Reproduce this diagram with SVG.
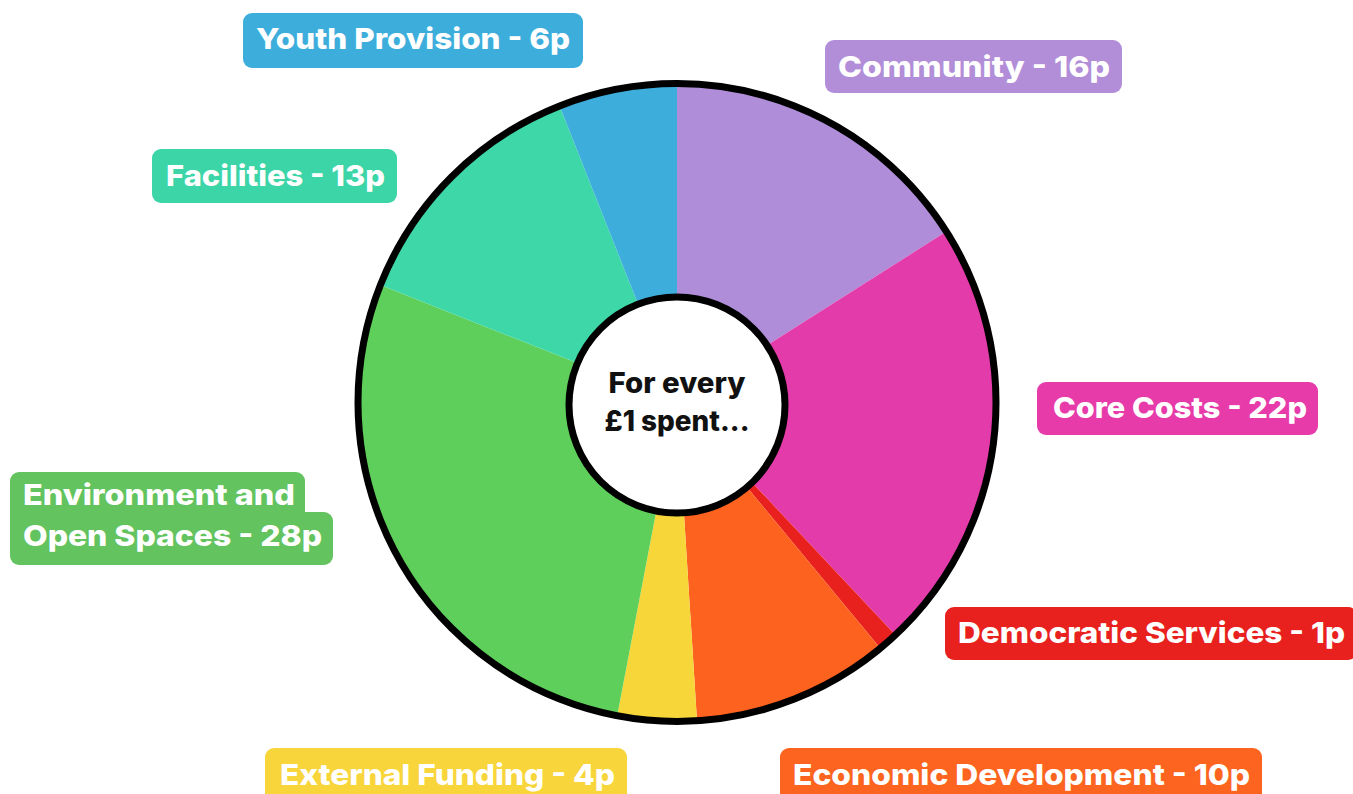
<svg xmlns="http://www.w3.org/2000/svg" width="1353" height="794" viewBox="0 0 1353 794">
<style>
.lbl{font-family:Inter,"Open Sans","Liberation Sans",sans-serif;font-weight:800;font-size:29px;fill:#ffffff}
.ctr{font-family:Inter,"Open Sans","Liberation Sans",sans-serif;font-weight:800;font-size:28px;fill:#111111;text-anchor:middle}
.slice{stroke:none}
</style>
<rect width="1353" height="794" fill="#ffffff"/>
<g id="pie">
<path class="slice" fill="#B08DD8" d="M677,402.5 L677,83.5 A319,319 0 0 1 946.3,231.6 Z"/>
<path class="slice" fill="#E43BAA" d="M677,402.5 L946.3,231.6 A319,319 0 0 1 895.4,635.1 Z"/>
<path class="slice" fill="#E8211E" d="M677,402.5 L895.4,635.1 A319,319 0 0 1 880.3,648.3 Z"/>
<path class="slice" fill="#FD621E" d="M677,402.5 L880.3,648.3 A319,319 0 0 1 697,720.9 Z"/>
<path class="slice" fill="#F6D639" d="M677,402.5 L697,720.9 A319,319 0 0 1 617.2,715.8 Z"/>
<path class="slice" fill="#5ECF5A" d="M677,402.5 L617.2,715.8 A319,319 0 0 1 380.4,285.1 Z"/>
<path class="slice" fill="#3DD7A8" d="M677,402.5 L380.4,285.1 A319,319 0 0 1 559.6,105.9 Z"/>
<path class="slice" fill="#3DAEDC" d="M677,402.5 L559.6,105.9 A319,319 0 0 1 677,83.5 Z"/>
<circle cx="677" cy="402.5" r="319" fill="none" stroke="#000000" stroke-width="7"/>
</g>
<g id="center">
<circle cx="677" cy="405" r="108" fill="#ffffff" stroke="#000000" stroke-width="7"/>
<text class="ctr" x="677" y="393" textLength="137" lengthAdjust="spacingAndGlyphs">For every</text>
<text class="ctr" x="677" y="431" textLength="145" lengthAdjust="spacingAndGlyphs">£1 spent...</text>
</g>
<g id="youth">
<rect x="243" y="13" width="340" height="55" rx="9" fill="#3DAEDC"/>
<text class="lbl" x="256" y="49" textLength="314" lengthAdjust="spacingAndGlyphs">Youth Provision - 6p</text>
</g>
<g id="community">
<rect x="825" y="40" width="297" height="53" rx="9" fill="#B28ED9"/>
<text class="lbl" x="838" y="77" textLength="272" lengthAdjust="spacingAndGlyphs">Community - 16p</text>
</g>
<g id="facilities">
<rect x="152" y="149" width="245" height="54" rx="9" fill="#3CD5A8"/>
<text class="lbl" x="166" y="186" textLength="219" lengthAdjust="spacingAndGlyphs">Facilities - 13p</text>
</g>
<g id="core">
<rect x="1037" y="382" width="281" height="53" rx="9" fill="#E63BA9"/>
<text class="lbl" x="1053" y="418" textLength="254" lengthAdjust="spacingAndGlyphs">Core Costs - 22p</text>
</g>
<g id="environment">
<rect x="10" y="472" width="295" height="60" rx="9" fill="#63C35F"/>
<rect x="10" y="512" width="323" height="53" rx="9" fill="#63C35F"/>
<text class="lbl" x="23" y="505" textLength="272" lengthAdjust="spacingAndGlyphs">Environment and</text>
<text class="lbl" x="23" y="546" textLength="299" lengthAdjust="spacingAndGlyphs">Open Spaces - 28p</text>
</g>
<g id="democratic">
<rect x="945" y="607" width="412" height="53" rx="9" fill="#E8201E"/>
<text class="lbl" x="958" y="643" textLength="387" lengthAdjust="spacingAndGlyphs">Democratic Services - 1p</text>
</g>
<g id="external">
<rect x="265" y="748" width="362" height="60" rx="9" fill="#F7D53B"/>
<text class="lbl" x="280" y="785" textLength="335" lengthAdjust="spacingAndGlyphs">External Funding - 4p</text>
</g>
<g id="economic">
<rect x="780" y="748" width="482" height="60" rx="9" fill="#FC6420"/>
<text class="lbl" x="793" y="785" textLength="457" lengthAdjust="spacingAndGlyphs">Economic Development - 10p</text>
</g>
</svg>
